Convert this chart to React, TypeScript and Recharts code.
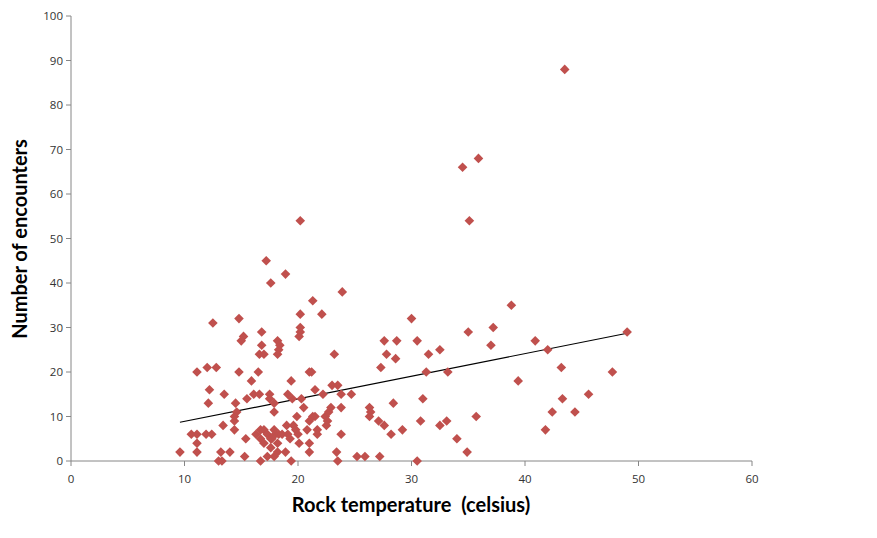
import React from "react";
import { ScatterChart, Scatter, XAxis, YAxis, ReferenceLine } from "recharts";

const temperature = [
  9.6, 10.6, 11.1, 11.9, 12.4, 11.1, 11.1, 13.2, 14.0, 13.0, 13.3, 11.1, 12.0, 12.8, 12.5, 12.2, 12.1, 13.5, 13.4, 14.4,
  14.4, 14.4, 14.6, 14.5, 14.8, 14.8, 15.2, 15.0, 15.4, 15.3, 15.5, 15.9, 16.1, 16.6, 16.5, 16.8, 16.8, 16.6, 17.0, 17.2,
  17.6, 18.9, 18.2, 18.4, 18.3, 18.2, 17.5, 17.5, 17.9, 17.9, 16.7, 17.3, 17.9, 17.6, 18.2, 18.9, 18.2, 19.4, 16.3, 16.7,
  17.0, 17.3, 17.6, 17.9, 18.0, 18.3, 18.6, 16.7, 17.0, 17.7, 19.0, 19.6, 19.8, 20.0, 19.1, 19.3, 20.1, 21.0, 21.0, 19.9,
  20.8, 21.7, 21.7, 21.0, 21.3, 21.5, 22.4, 22.6, 22.5, 20.5, 20.3, 19.5, 19.1, 19.4, 21.0, 21.2, 21.5, 22.2, 23.0, 23.5,
  23.8, 24.7, 22.9, 22.7, 23.8, 23.2, 20.2, 22.1, 20.2, 20.2, 20.1, 21.3, 23.9, 20.2, 23.4, 23.5, 23.8, 25.2, 25.9, 27.2,
  26.3, 26.4, 26.3, 27.1, 27.6, 28.2, 29.2, 28.4, 27.3, 27.8, 28.6, 27.6, 28.7, 30.0, 30.5, 30.5, 30.8, 31.0, 31.3, 31.5,
  32.5, 32.5, 33.1, 33.2, 34.0, 34.9, 35.0, 34.5, 35.9, 35.1, 35.7, 37.0, 37.2, 38.8, 39.4, 40.9, 41.8, 42.0, 42.4, 43.2,
  43.3, 43.5, 44.4, 45.6, 47.7, 49.0,
];

const encounters = [
  2, 6, 6, 6, 6, 4, 2, 2, 2, 0, 0, 20, 21, 21, 31, 16, 13, 15, 8, 7,
  9, 10, 11, 13, 20, 32, 28, 27, 5, 1, 14, 18, 15, 15, 20, 29, 26, 24, 24, 45,
  40, 42, 27, 26, 25, 24, 15, 14, 13, 11, 0, 1, 1, 3, 2, 2, 4, 0, 6, 7,
  7, 6, 5, 7, 6, 6, 6, 5, 4, 5, 8, 8, 7, 6, 6, 5, 4, 4, 2, 10,
  7, 7, 6, 9, 10, 10, 10, 9, 8, 12, 14, 14, 15, 18, 20, 20, 16, 15, 17, 17,
  15, 15, 12, 11, 12, 24, 33, 33, 30, 29, 28, 36, 38, 54, 2, 0, 6, 1, 1, 1,
  12, 11, 10, 9, 8, 6, 7, 13, 21, 24, 23, 27, 27, 32, 27, 0, 9, 14, 20, 24,
  25, 8, 9, 20, 5, 2, 29, 66, 68, 54, 10, 26, 30, 35, 18, 27, 7, 25, 11, 21,
  14, 88, 11, 15, 20, 29,
];

const trendX = [9.6, 49.0];
const trendY = [8.7, 28.7];

const xTicks = [0, 10, 20, 30, 40, 50, 60];
const yTicks = [0, 10, 20, 30, 40, 50, 60, 70, 80, 90, 100];

const data = temperature.map((t, i) => ({ x: t, y: encounters[i] }));

const MARKER = "#C0504D";
const AXIS = "#868686";

const Diamond = (props: any) => {
  const { cx, cy } = props;
  if (cx == null || cy == null) return null;
  const r = 4.8;
  return (
    <polygon
      points={`${cx},${cy - r} ${cx + r},${cy} ${cx},${cy + r} ${cx - r},${cy}`}
      fill={MARKER}
    />
  );
};

const tickStyle = { fontFamily: "'Open Sans', sans-serif", fontSize: 11.5, fill: "#333" };
const titleStyle = {
  fontFamily: "Lato, sans-serif",
  fontWeight: 700,
  fontSize: 20,
  fill: "#000",
  whiteSpace: "pre" as const,
};

export default function App() {
  return (
    <div style={{ width: 869, height: 530 }}>
      <ScatterChart
        width={869}
        height={530}
        margin={{ top: 8, right: 125, left: 0, bottom: 17 }}
      >
        <XAxis
          type="number"
          dataKey="x"
          domain={[0, 60]}
          ticks={xTicks}
          axisLine={{ stroke: AXIS }}
          tickLine={{ stroke: AXIS }}
          tickSize={5}
          tickMargin={9}
          height={60}
          tick={tickStyle}
          label={{
            content: () => (
              <text x={403} y={504} textAnchor="middle" xmlSpace="preserve" style={titleStyle}>
                {"Rock temperature  (celsius)"}
              </text>
            ),
          }}
        />
        <YAxis
          type="number"
          dataKey="y"
          domain={[0, 100]}
          ticks={yTicks}
          axisLine={{ stroke: AXIS }}
          tickLine={{ stroke: AXIS }}
          tickSize={5}
          tickMargin={3}
          width={63}
          tick={tickStyle}
          label={{
            content: () => (
              <text
                x={19}
                y={231}
                textAnchor="middle"
                transform="rotate(-90 19 231)"
                style={titleStyle}
              >
                Number of encounters
              </text>
            ),
          }}
        />
        <Scatter data={data} shape={Diamond} isAnimationActive={false} />
        <ReferenceLine
          segment={[
            { x: trendX[0], y: trendY[0] },
            { x: trendX[1], y: trendY[1] },
          ]}
          stroke="#000"
          strokeWidth={1.2}
        />
      </ScatterChart>
    </div>
  );
}
